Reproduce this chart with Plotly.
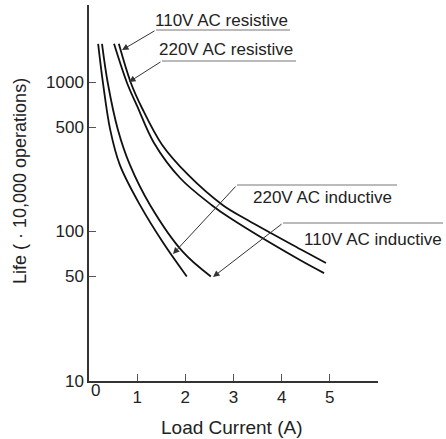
import plotly.graph_objects as go

W, H = 446, 439
L, R, T, B = 89, 68, 5, 58
PW, PH = W - L - R, H - T - B

# ---- data ----
x_ticks = [0, 1, 2, 3, 4, 5]
y_ticks = [10, 50, 100, 500, 1000]

ind220_x = [0.19, 0.29, 0.44, 0.64, 1.06, 1.54, 2.03]
ind220_y = [1800, 985, 480, 279, 150, 84, 50]
ind110_x = [0.27, 0.39, 0.60, 0.85, 1.27, 1.95, 2.53]
ind110_y = [1800, 985, 480, 279, 150, 73, 50]
res220_x = [0.52, 0.79, 1.00, 1.35, 1.89, 2.55, 2.93, 4.38, 4.88]
res220_y = [1800, 985, 690, 391, 228, 150, 123, 64.4, 52.7]
res110_x = [0.62, 0.87, 1.10, 1.52, 2.06, 2.78, 3.30, 4.42, 4.92]
res110_y = [1800, 985, 670, 379, 239, 150, 119, 75.2, 61.5]

labels = ["110V AC resistive", "220V AC resistive", "220V AC inductive", "110V AC inductive"]

FONT = "Liberation Sans, Arial, sans-serif"
TXT = "#222"


def px(x):
    return (x - L) / PW


def py(y):
    return (T + PH - y) / PH


fig = go.Figure()
for xs, ys, name in [(ind220_x, ind220_y, labels[2]), (ind110_x, ind110_y, labels[3]),
                     (res220_x, res220_y, labels[1]), (res110_x, res110_y, labels[0])]:
    fig.add_trace(go.Scatter(x=xs, y=ys, mode="lines", name=name,
                             line=dict(color="#111", width=1.8, shape="spline", smoothing=1.0),
                             showlegend=False, hoverinfo="skip"))

# label geometry in pixels: text left, text center y, underline x0, x1, y, arrow tip
geo = [
    (153, 21, 156, 290, 30, 122, 50),
    (157, 49, 162, 296, 61, 129, 82),
    (251, 197, 237, 397, 185, 173, 254),
    (302, 239, 283, 443, 223, 213, 277),
]

shapes = []
annotations = []
for lab, (tx, ty, ux0, ux1, uy, ax_, ay_) in zip(labels, geo):
    shapes.append(dict(type="line", xref="paper", yref="paper",
                       x0=px(ux0), x1=px(ux1), y0=py(uy), y1=py(uy),
                       line=dict(color="#777", width=1)))
    annotations.append(dict(xref="paper", yref="paper", x=px(ax_), y=py(ay_),
                            ax=ux0 - ax_, ay=uy - ay_, text="", showarrow=True,
                            arrowhead=2, arrowsize=1.3, arrowwidth=1, arrowcolor="#333",
                            standoff=0))
    annotations.append(dict(xref="paper", yref="paper", x=px(tx), y=py(ty),
                            xanchor="left", yanchor="middle", text=lab, showarrow=False,
                            font=dict(family=FONT, size=17, color=TXT)))

# x tick label "0" (shifted right, as in the reference)
annotations.append(dict(xref="x", yref="paper", x=x_ticks[0], y=py(390), xshift=6,
                        text=str(x_ticks[0]), showarrow=False, xanchor="center", yanchor="middle",
                        font=dict(family=FONT, size=17, color=TXT)))
# axis titles
annotations.append(dict(xref="paper", yref="paper", x=px(232), y=py(427),
                        text="Load Current (A)", showarrow=False, xanchor="center", yanchor="middle",
                        font=dict(family=FONT, size=19, color=TXT)))
annotations.append(dict(xref="paper", yref="paper", x=px(20), y=py(181), textangle=-90,
                        text="Life ( · 10,000 operations)", showarrow=False,
                        xanchor="center", yanchor="middle",
                        font=dict(family=FONT, size=18, color=TXT)))

fig.update_layout(
    width=W, height=H, margin=dict(l=L, r=R, t=T, b=B, pad=0),
    paper_bgcolor="white", plot_bgcolor="white",
    shapes=shapes, annotations=annotations,
    font=dict(family=FONT, size=17, color=TXT),
)
fig.update_xaxes(range=[0, 6], tickvals=x_ticks[1:], ticktext=[str(v) for v in x_ticks[1:]],
                 showgrid=False, zeroline=False, showline=True, linecolor="#333", linewidth=1.5,
                 ticks="inside", ticklen=7, tickcolor="#555", tickwidth=1,
                 tickfont=dict(family=FONT, size=17, color=TXT))
fig.update_yaxes(type="log", range=[1, 1 + PH / 149.5], tickvals=y_ticks,
                 ticktext=[str(v) for v in y_ticks],
                 showgrid=False, zeroline=False, showline=True, linecolor="#333", linewidth=1.5,
                 ticks="inside", ticklen=7, tickcolor="#555", tickwidth=1,
                 tickfont=dict(family=FONT, size=17, color=TXT))

fig.write_html("out.html", config={"displayModeBar": False},
               post_script="document.body.style.margin='0';document.body.style.overflow='hidden';")
